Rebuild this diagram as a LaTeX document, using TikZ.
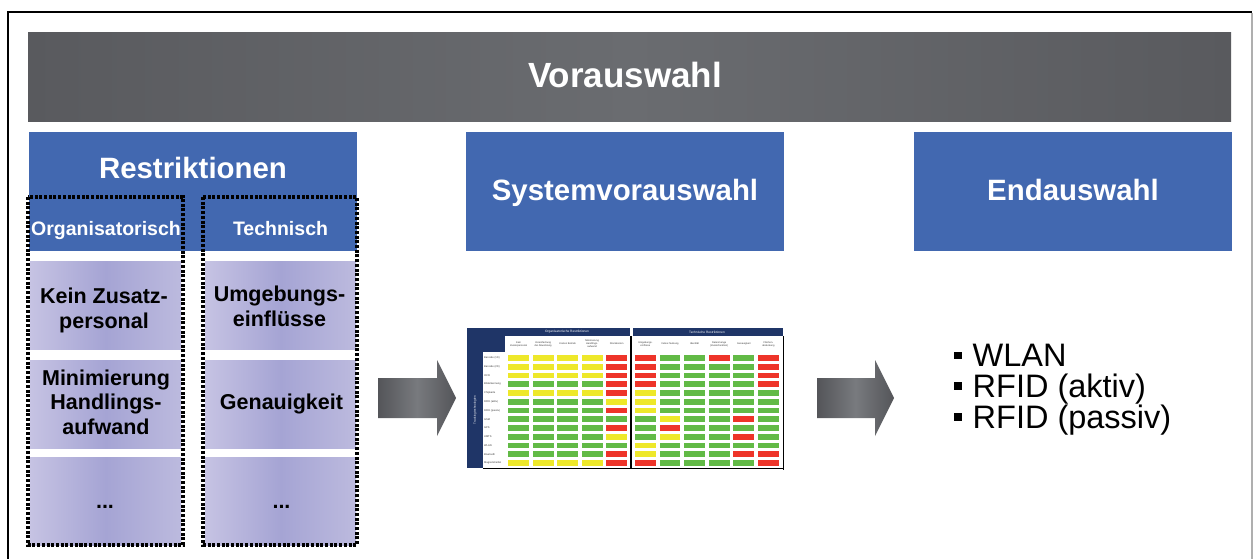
\documentclass[tikz,border=0pt]{standalone}
\usepackage{fontspec}
\setmainfont{Liberation Sans}
\usetikzlibrary{calc}

\definecolor{hdrblue}{RGB}{66,104,176}
\definecolor{navy}{RGB}{31,53,103}
\definecolor{lavL}{RGB}{198,195,227}
\definecolor{lavM}{RGB}{165,164,212}
\definecolor{lavR}{RGB}{188,186,222}
\definecolor{barDark}{RGB}{89,90,94}
\definecolor{barLight}{RGB}{106,108,112}
\definecolor{arrDark}{RGB}{84,85,89}
\definecolor{arrLight}{RGB}{120,122,126}
\definecolor{cY}{RGB}{238,232,42}
\definecolor{cG}{RGB}{98,186,70}
\definecolor{cR}{RGB}{238,52,41}
\definecolor{lblgray}{RGB}{60,60,60}
\definecolor{framegray}{RGB}{175,175,175}

\tikzset{
  bluebox/.style={fill=hdrblue, draw=none, inner sep=0pt},
  lavbox/.style={left color=lavL, right color=lavR, middle color=lavM, draw=none, inner sep=0pt,
                 minimum width=151pt, minimum height=88pt},
  dotframe/.style={draw=black, line width=3.2pt, dash pattern=on 3pt off 1.7pt},
  headtext/.style={text=white, font=\fontsize{29.4pt}{33pt}\selectfont\bfseries, inner sep=0pt},
  subtext/.style={text=white, font=\fontsize{19.5pt}{22pt}\selectfont\bfseries, inner sep=0pt},
  itemtext/.style={text=black, align=center, font=\fontsize{21.5pt}{24.5pt}\selectfont\bfseries, inner sep=0pt},
  blockarrow/.style={left color=arrDark, right color=arrDark, middle color=arrLight, draw=none},
  tinyhead/.style={text=white, font=\fontsize{3.2pt}{3.8pt}\selectfont, inner sep=0pt},
  colhead/.style={text=lblgray, align=center, font=\fontsize{2.5pt}{3pt}\selectfont, inner sep=0pt},
  rowlabel/.style={text=lblgray, anchor=west, font=\fontsize{2.6pt}{3pt}\selectfont, inner sep=0pt},
}

\begin{document}
\begin{tikzpicture}[x=1pt,y=-1pt]
\useasboundingbox (0,0) rectangle (1253,558);
\fill[white] (0,0) rectangle (1253,558);

% outer frame
\draw[line width=2pt, black] (8,12) -- (1252,12);
\draw[line width=1.5pt, black] (8,11) -- (8,560);
\draw[line width=1.5pt, framegray] (1252,13) -- (1252,560);

% top bar
\node[left color=barDark, right color=barDark, middle color=barLight, draw=none, inner sep=0pt,
      minimum width=1203pt, minimum height=89pt] (pre) at (629.5,76.5) {};
\node[text=white, font=\fontsize{35pt}{40pt}\selectfont\bfseries, inner sep=0pt, anchor=base] (preT) at (625,87) {Vorauswahl};

% three blue headers
\node[bluebox, minimum width=328pt, minimum height=119pt] (restr) at (193,191.5) {};
\node[bluebox, minimum width=318pt, minimum height=119pt] (sys) at (625,191.5) {};
\node[bluebox, minimum width=318pt, minimum height=119pt] (end) at (1073,191.5) {};
\node[headtext, anchor=base] (restrT) at (193,178) {Restriktionen};
\node[headtext, anchor=base] (sysT) at (625,200) {Systemvorauswahl};
\node[headtext, anchor=base] (endT) at (1073,200) {Endauswahl};
\node[subtext, anchor=base] (orgT) at (106,235) {Organisatorisch};
\node[subtext, anchor=base] (techT) at (280.5,235) {Technisch};

% restriction items
\node[lavbox] (o1) at (105.5,305) {};
\node[lavbox] (o2) at (105.5,404) {};
\node[lavbox] (o3) at (105.5,501) {};
\node[lavbox] (t1) at (280.5,305) {};
\node[lavbox] (t2) at (280.5,404) {};
\node[lavbox] (t3) at (280.5,501) {};
\node[itemtext, anchor=base] (o1T) at (104,328) {Kein Zusatz-\\personal};
\node[itemtext, anchor=base] (o2T) at (106,434) {Minimierung\\Handlings-\\aufwand};
\node[itemtext, anchor=base] (o3T) at (105,508) {...};
\node[itemtext, anchor=base] (t1T) at (279.5,326) {Umgebungs-\\einflüsse};
\node[itemtext, anchor=base] (t2T) at (281.5,409) {Genauigkeit};
\node[itemtext, anchor=base] (t3T) at (281.5,508) {...};

% dotted group frames
\draw[dotframe] (28,197) rectangle (183,545);
\draw[dotframe] (203,197) rectangle (357,545);

% block arrows
\shade[blockarrow] (378,378) -- (437,378) -- (437,360) -- (456,398) -- (437,436) -- (437,418) -- (378,418) -- cycle;
\shade[blockarrow] (817,378) -- (875,378) -- (875,360) -- (894,398) -- (875,436) -- (875,418) -- (817,418) -- cycle;

% evaluation matrix
\fill[navy] (467,328) rectangle (783,336);
\fill[navy] (467,328) rectangle (505,352);
\fill[navy] (467,328) rectangle (483,468);
\fill[white] (630,328) rectangle (632.5,336);
\draw[line width=2pt, black] (631.2,336) -- (631.2,468);
\draw[line width=1pt, black] (783,336) -- (783,470);
\draw[line width=1pt, black] (483,468) -- (783.5,468);
\node[tinyhead] (orgH) at (567,332) {Organisatorische Restriktionen};
\node[tinyhead] (techH) at (707,332) {Technische Restriktionen};
\node[text=white, rotate=90, font=\fontsize{3pt}{3.5pt}\selectfont, inner sep=0pt] (techV) at (475,410) {Trackingtechnologien};

\foreach \h [count=\j from 0] in {{Kein\\Zusatzpersonal},{Vereinfachung\\der Abwicklung},{Kosten Betrieb},{Minimierung\\Handlings-\\aufwand},{Stückkosten}} {
  \node[colhead] (lh\j) at (518.6+24.5*\j,344) {\h};
}
\foreach \h [count=\j from 0] in {{Umgebungs-\\einflüsse},{Indoor-Nutzung},{Identität},{Datenmenge\\(Zusatzfunktion)},{Genauigkeit},{Flächen-\\abdeckung}} {
  \node[colhead] (rh\j) at (645.4+24.6*\j,344) {\h};
}
\foreach \lbl [count=\i from 0] in {{Barcode (1D)},{Barcode (2D)},{OCR},{Bilderkennung},{Chipkarte},{RFID (aktiv)},{RFID (passiv)},{GSM},{GPS},{UMTS},{WLAN},{Bluetooth},{Magnetstreifen}} {
  \node[rowlabel] (rl\i) at (484,357.9+8.75*\i) {\lbl};
}
\foreach \cols [count=\i from 0] in {
  {Y,Y,Y,Y,R,R,G,G,R,G,R},
  {Y,Y,Y,Y,R,R,G,G,G,G,R},
  {Y,Y,Y,Y,R,R,G,G,G,G,R},
  {G,G,G,G,R,R,G,G,G,G,R},
  {Y,Y,Y,Y,R,Y,G,G,G,G,G},
  {G,G,G,G,Y,Y,G,G,G,G,G},
  {G,G,G,G,R,Y,G,G,G,G,G},
  {G,G,G,G,G,G,Y,G,G,R,G},
  {G,G,G,G,R,G,R,G,G,G,G},
  {G,G,G,G,Y,G,Y,G,G,R,G},
  {G,G,G,G,G,Y,G,G,G,G,G},
  {G,G,G,G,R,Y,G,G,G,R,R},
  {Y,Y,Y,Y,R,R,G,G,G,G,R}} {
  \foreach \c [count=\j from 0] in \cols {
    \pgfmathsetmacro{\bx}{\j<5 ? 508.3+24.5*\j : 635+24.6*(\j-5)}
    \fill[c\c] (\bx,355+8.75*\i) rectangle ++(20.7,5.8);
  }
}

% final selection list
\node[anchor=base west, align=left, inner sep=0pt, text=black,
      font=\fontsize{32.5pt}{30.7pt}\selectfont] (final) at (954,428)
  {\rule[7.5pt]{7.5pt}{7.5pt}\hspace{11pt}WLAN\\
   \rule[7.5pt]{7.5pt}{7.5pt}\hspace{11pt}RFID (aktiv)\\
   \rule[7.5pt]{7.5pt}{7.5pt}\hspace{11pt}RFID (passiv)};
\end{tikzpicture}
\end{document}
